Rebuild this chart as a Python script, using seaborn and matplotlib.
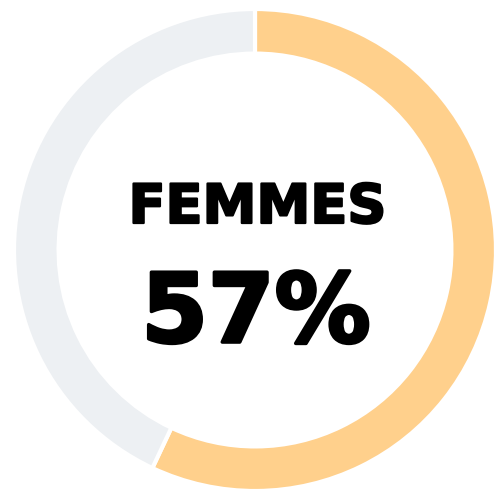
import matplotlib
matplotlib.use("Agg")
import matplotlib.pyplot as plt
import matplotlib.patheffects as pe
import seaborn as sns

sns.set_style("white")
plt.rcParams["font.family"] = ["DejaVu Sans"]

labels = ["Femmes", "Hommes"]
values = [57, 43]
colors = ["#FFD08C", "#EDF0F3"]
title = "FEMMES"
share = "57%"

fig = plt.figure(figsize=(4.95, 4.93), dpi=100)
ax = fig.add_axes([0, 0, 1, 1])
ax.pie(values, colors=colors, startangle=90, counterclock=False,
       radius=1.0, wedgeprops={"width": 0.185, "edgecolor": "white", "linewidth": 3})
ax.set_xlim(-255 / 241, 240 / 241)
ax.set_ylim(-243 / 241, 250 / 241)
ax.set_aspect("auto")
ax.axis("off")

ax.text(0.01, 0.112, title, ha="center", va="baseline", fontsize=39,
        fontweight="bold", color="black",
        path_effects=[pe.withStroke(linewidth=1.6, foreground="black")])
ax.text(0.004, -0.382, share, ha="center", va="baseline", fontsize=69,
        fontweight="bold", color="black",
        path_effects=[pe.withStroke(linewidth=2.5, foreground="black")])

fig.savefig("out.png", dpi=100)
plt.close(fig)
